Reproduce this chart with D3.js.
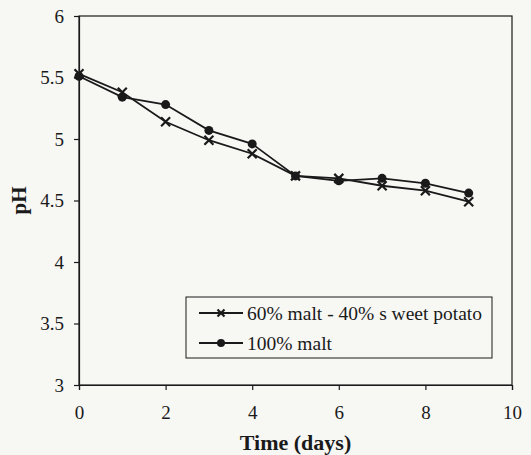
<!DOCTYPE html>
<html>
<head>
<meta charset="utf-8">
<script src="https://cdn.jsdelivr.net/npm/d3@7"></script>
<style>
  body { margin: 0; background: #f7f7f4; }
  svg { display: block; }
</style>
</head>
<body>
<div id="chart"></div>
<script>
// Time in days
const days = [0, 1, 2, 3, 4, 5, 6, 7, 8, 9];
// pH values
const mixPH = [5.53, 5.38, 5.14, 4.99, 4.88, 4.70, 4.68, 4.62, 4.58, 4.49];
const maltPH = [5.51, 5.34, 5.28, 5.07, 4.96, 4.70, 4.66, 4.68, 4.64, 4.56];
const xTicks = [0, 2, 4, 6, 8, 10];
const yTicks = [3, 3.5, 4, 4.5, 5, 5.5, 6];
const seriesNames = ["60% malt - 40% s weet potato", "100% malt"];

const width = 531, height = 455;
const margin = { top: 16, right: 19, bottom: 70, left: 79 };
const ink = "#1a1a1a";
const serif = "'Liberation Serif', 'DejaVu Serif', serif";

const svg = d3.select("#chart").append("svg")
    .attr("width", width)
    .attr("height", height)
    .attr("font-family", serif);

const x = d3.scaleLinear().domain([0, 10]).range([margin.left, width - margin.right]);
const y = d3.scaleLinear().domain([3, 6]).range([height - margin.bottom, margin.top]);

// frame
svg.append("rect")
    .attr("x", x(0))
    .attr("y", y(6))
    .attr("width", x(10) - x(0))
    .attr("height", y(3) - y(6))
    .attr("fill", "none")
    .attr("stroke", ink)
    .attr("stroke-width", 1.2);

// axes
const xAxis = svg.append("g")
    .attr("transform", `translate(0,${y(3)})`)
    .call(d3.axisBottom(x).tickValues(xTicks).tickFormat(d3.format("d")).tickSize(5).tickPadding(16));
const yAxis = svg.append("g")
    .attr("transform", `translate(${x(0)},0)`)
    .call(d3.axisLeft(y).tickValues(yTicks).tickFormat(d => d).tickSize(5).tickPadding(10));

[xAxis, yAxis].forEach(g => {
    g.attr("font-family", serif).attr("font-size", 19);
    g.select(".domain").attr("stroke", ink).attr("stroke-width", 1.2);
    g.selectAll(".tick line").attr("stroke", ink).attr("stroke-width", 1.2);
    g.selectAll(".tick text").attr("fill", ink);
});

// axis titles
svg.append("text")
    .attr("x", (x(0) + x(10)) / 2)
    .attr("y", 450)
    .attr("text-anchor", "middle")
    .attr("font-size", 22)
    .attr("font-weight", "bold")
    .attr("fill", ink)
    .text("Time (days)");

svg.append("text")
    .attr("transform", `translate(26,${y(4.5)}) rotate(-90)`)
    .attr("text-anchor", "middle")
    .attr("font-size", 21)
    .attr("font-weight", "bold")
    .attr("fill", ink)
    .text("pH");

const line = d3.line()
    .x((d, i) => x(days[i]))
    .y(d => y(d));

function drawCross(g, cx, cy, r) {
    g.append("path")
        .attr("d", `M${cx - r},${cy - r}L${cx + r},${cy + r}M${cx - r},${cy + r}L${cx + r},${cy - r}`)
        .attr("stroke", ink)
        .attr("stroke-width", 2.2)
        .attr("fill", "none");
}

const series = [
    { values: mixPH, marker: "cross" },
    { values: maltPH, marker: "circle" }
];

series.forEach(s => {
    svg.append("path")
        .datum(s.values)
        .attr("d", line)
        .attr("fill", "none")
        .attr("stroke", ink)
        .attr("stroke-width", 1.8);
});

series.forEach(s => {
    const g = svg.append("g");
    s.values.forEach((v, i) => {
        if (s.marker === "cross") {
            drawCross(g, x(days[i]), y(v), 4.5);
        } else {
            g.append("circle")
                .attr("cx", x(days[i]))
                .attr("cy", y(v))
                .attr("r", 4.5)
                .attr("fill", ink);
        }
    });
});

// legend
const legend = svg.append("g");
legend.append("rect")
    .attr("x", 186)
    .attr("y", 297)
    .attr("width", 306)
    .attr("height", 61)
    .attr("fill", "#f7f7f4")
    .attr("stroke", ink)
    .attr("stroke-width", 1);

seriesNames.forEach((name, i) => {
    const ly = 313 + i * 30;
    legend.append("line")
        .attr("x1", 199).attr("x2", 243)
        .attr("y1", ly).attr("y2", ly)
        .attr("stroke", ink)
        .attr("stroke-width", 1.8);
    if (series[i].marker === "cross") {
        drawCross(legend, 221, ly, 3.5);
    } else {
        legend.append("circle").attr("cx", 221).attr("cy", ly).attr("r", 4).attr("fill", ink);
    }
    legend.append("text")
        .attr("x", 247)
        .attr("y", ly)
        .attr("dy", "0.35em")
        .attr("font-size", 19.5)
        .attr("fill", ink)
        .text(name);
});
</script>
</body>
</html>
